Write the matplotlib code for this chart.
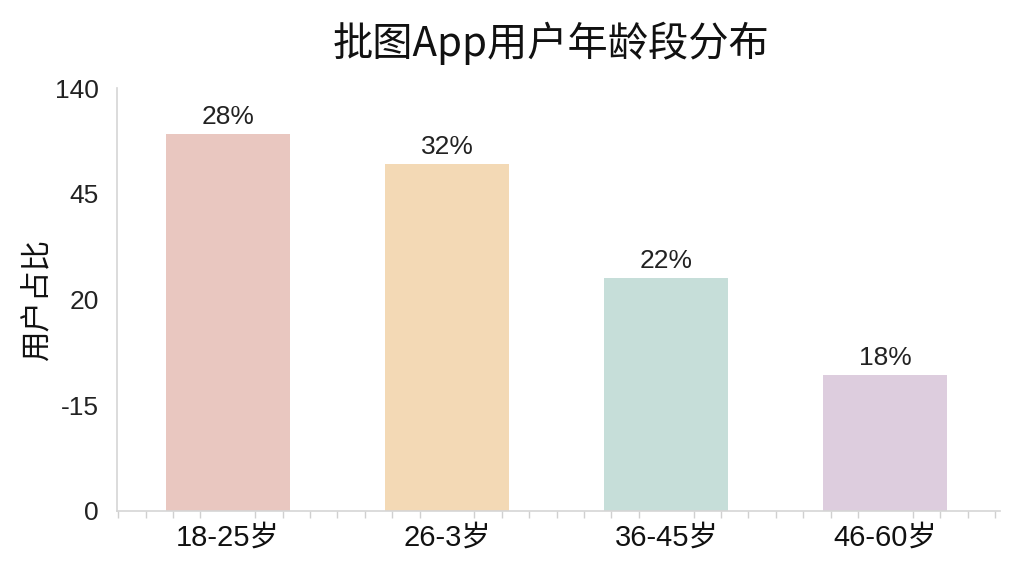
import matplotlib
matplotlib.use("Agg")
import matplotlib.pyplot as plt
import numpy as np

categories = ["18-25岁", "26-3岁", "36-45岁", "46-60岁"]
values = [124.8, 114.8, 77.1, 45.0]
bar_labels = ["28%", "32%", "22%", "18%"]
ytick_values = [0, 35, 70, 105, 140]
ytick_labels = ["0", "-15", "20", "45", "140"]
colors = ["#E9C7C0", "#F3D9B5", "#C6DED9", "#DDCDDE"]

fam = ["Liberation Sans", "Noto Sans CJK SC", "DejaVu Sans"]
plt.rcParams["font.family"] = fam

fig = plt.figure(figsize=(10.24, 5.76), dpi=100)
ax = fig.add_axes([0.114, 0.113, 0.863, 0.734])

x = np.arange(len(categories))
bars = ax.bar(x, values, width=0.566, color=colors, edgecolor="none", zorder=2)
for b, lab in zip(bars, bar_labels):
    ax.text(b.get_x() + b.get_width() / 2, b.get_height() + 1.6, lab,
            ha="center", va="bottom", fontsize=19, color="#222222")

ax.set_xlim(-0.507, 3.525)
ax.set_ylim(0, 140)
ax.set_yticks(ytick_values)
ax.set_yticklabels(ytick_labels, fontsize=19, color="#222222")
ax.set_xticks(x)
ax.set_xticklabels(categories, fontsize=21, color="#111111")
ax.set_xticks(np.arange(-0.5, 3.55, 0.125), minor=True)
ax.tick_params(axis="y", length=0, pad=13)
ax.tick_params(axis="x", which="major", length=0, pad=9)
ax.tick_params(axis="x", which="minor", length=5, color="#d0d0d0", width=1)

for s in ["top", "right"]:
    ax.spines[s].set_visible(False)
for s in ["left", "bottom"]:
    ax.spines[s].set_color("#d5d5d5")
    ax.spines[s].set_linewidth(1.2)

ax.set_ylabel("用户占比", fontsize=22, color="#111111",
              family=["Noto Sans CJK SC", "DejaVu Sans"], labelpad=2)
fig.text(0.538, 0.925, "批图App用户年龄段分布", ha="center", va="center",
         fontsize=29, color="#111111", family=["Noto Sans CJK SC", "DejaVu Sans"])

fig.savefig("out.png", dpi=100, facecolor="white")
